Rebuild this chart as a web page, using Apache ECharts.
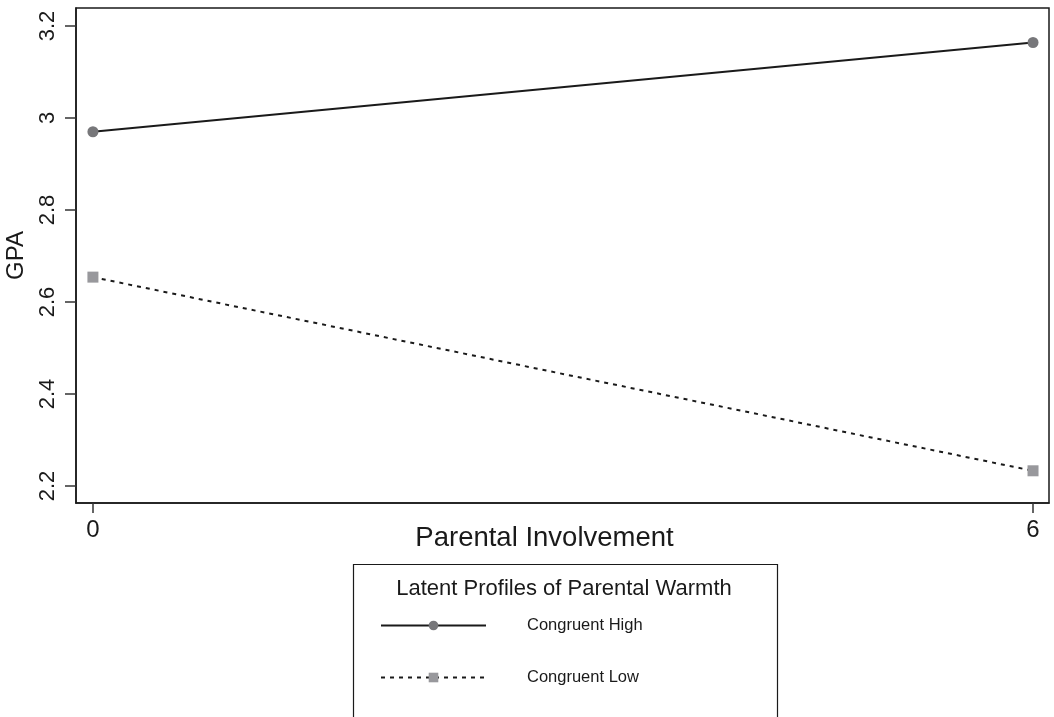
<!DOCTYPE html>
<html>
<head>
<meta charset="utf-8">
<style>
  html, body { margin: 0; padding: 0; background: #fff; }
  #chart { width: 1054px; height: 717px; }
</style>
<script src="https://cdn.jsdelivr.net/npm/echarts@6/dist/echarts.min.js"></script>
</head>
<body>
<div id="chart"></div>
<script>
// 数据：家长参与度 (x) 与 GPA (y)
const xValues = [0, 6];
const highGPA = [2.970, 3.164];
const lowGPA = [2.654, 2.233];
const seriesNames = ['Congruent High', 'Congruent Low'];
const yTicks = [2.2, 2.4, 2.6, 2.8, 3, 3.2];
const xTicks = [0, 6];

const FONT = '"Liberation Sans", Arial, Helvetica, sans-serif';
const INK = '#1a1a1a';

const chart = echarts.init(document.getElementById('chart'));

const option = {
  backgroundColor: '#fff',
  animation: false,
  textStyle: { fontFamily: FONT, color: INK },
  // 图例外框（底部被裁切）
  graphic: [{
    type: 'rect',
    left: 351,
    top: 562,
    shape: { width: 424, height: 200 },
    style: { fill: 'none', stroke: INK, lineWidth: 1.2 },
    silent: true
  }],
  title: {
    text: 'Latent Profiles of Parental Warmth',
    left: 564,
    top: 578,
    padding: 0,
    textAlign: 'center',
    textStyle: { fontFamily: FONT, fontSize: 22, fontWeight: 'normal', color: INK }
  },
  legend: {
    left: 380,
    top: 617,
    orient: 'vertical',
    padding: 0,
    itemWidth: 105,
    itemHeight: 12,
    itemGap: 35,
    data: seriesNames,
    textStyle: { fontFamily: FONT, fontSize: 16.5, color: INK, padding: [0, 0, 0, 36] }
  },
  grid: {
    left: 76, top: 8, right: 5, bottom: 214,
    show: true,
    borderColor: INK,
    borderWidth: 1.5,
    containLabel: false,
    outerBoundsMode: 'none'
  },
  xAxis: {
    type: 'value',
    min: -0.108,
    max: 6.102,
    name: 'Parental Involvement',
    nameLocation: 'middle',
    nameGap: 21,
    nameMoveOverlap: false,
    nameTextStyle: { fontFamily: FONT, fontSize: 27.5, color: INK, padding: [0, 36, 0, 0] },
    splitLine: { show: false },
    axisLine: { show: true, onZero: false, lineStyle: { color: INK, width: 1.5 } },
    axisTick: { show: true, length: 10, customValues: xTicks, lineStyle: { color: '#333', width: 1.5 } },
    axisLabel: { customValues: xTicks, fontSize: 24, color: INK, margin: 15, fontFamily: FONT }
  },
  yAxis: {
    type: 'value',
    min: 2.163,
    max: 3.239,
    name: 'GPA',
    nameLocation: 'middle',
    nameGap: 48,
    nameRotate: 90,
    nameMoveOverlap: false,
    nameTextStyle: { fontFamily: FONT, fontSize: 24, color: INK },
    splitLine: { show: false },
    axisLine: { show: true, onZero: false, lineStyle: { color: INK, width: 1.5 } },
    axisTick: { show: true, length: 11, customValues: yTicks, lineStyle: { color: '#333', width: 1.5 } },
    axisLabel: {
      customValues: yTicks,
      rotate: 90,
      fontSize: 22,
      color: INK,
      margin: 17,
      fontFamily: FONT,
      formatter: (v) => String(Math.round(v * 10) / 10)
    }
  },
  series: [
    {
      name: seriesNames[0],
      type: 'line',
      data: xValues.map((x, i) => [x, highGPA[i]]),
      symbol: 'circle',
      symbolSize: 11,
      itemStyle: { color: '#77777a' },
      lineStyle: { color: INK, width: 2 },
      z: 3
    },
    {
      name: seriesNames[1],
      type: 'line',
      data: xValues.map((x, i) => [x, lowGPA[i]]),
      symbol: 'rect',
      symbolSize: 11,
      itemStyle: { color: '#98989c' },
      lineStyle: { color: INK, width: 2, type: [4, 5] },
      z: 3
    }
  ]
};

chart.setOption(option);
</script>
</body>
</html>
